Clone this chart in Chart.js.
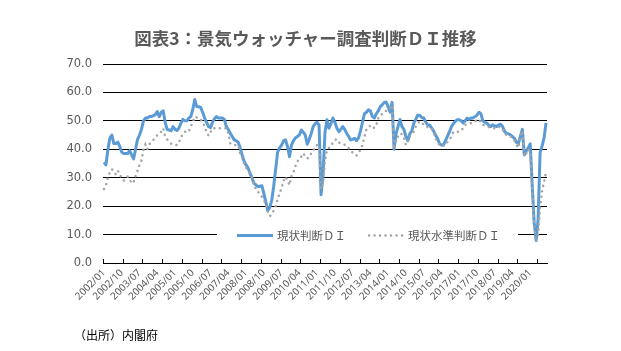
<!DOCTYPE html>
<html>
<head>
<meta charset="utf-8">
<script src="https://cdn.jsdelivr.net/npm/chart.js@4.4.0/dist/chart.umd.min.js"></script>
<style>
html, body { margin: 0; padding: 0; background: #fff; }
#wrap { position: relative; width: 621px; height: 351px; overflow: hidden; }
#diChart { position: absolute; left: 0; top: 0; }
#title { position: absolute; left: 0; top: 28px; width: 611px; text-align: center;
  font: bold 17.5px "Noto Sans CJK JP", sans-serif; color: #595959; line-height: 20px; }
#src { position: absolute; left: 74px; top: 327px; font: 12px "Noto Sans CJK JP", sans-serif;
  color: #000; line-height: 16px; }
</style>
</head>
<body>
<div id="wrap">
  <canvas id="diChart" width="621" height="351"></canvas>
  <div id="title">図表3：景気ウォッチャー調査判断ＤＩ推移</div>
  <div id="src">（出所）内閣府</div>
</div>
<script>
// months 2002/01 .. 2020/09
const months = [];
for (let y = 2002; y <= 2020; y++) {
  for (let m = 1; m <= 12; m++) {
    if (y === 2020 && m > 9) break;
    months.push(y + '/' + String(m).padStart(2, '0'));
  }
}

// 現状判断DI
const currentDI = [
  35.4, 34.5, 40.0, 44.0, 45.0, 42.0, 42.0, 42.5, 41.0, 39.0, 38.5, 38.5,
  38.5, 39.5, 38.0, 36.6, 40.0, 43.5, 45.0, 47.0, 50.0, 51.0, 51.0, 51.5,
  51.5, 51.8, 52.2, 53.3, 51.5, 53.0, 53.5, 49.5, 47.0, 46.8, 46.5, 48.0,
  47.0, 46.6, 47.5, 49.2, 50.5, 50.0, 50.0, 51.0, 51.5, 54.0, 57.5, 55.0,
  55.0, 54.7, 53.0, 51.0, 49.5, 48.0, 47.6, 49.5, 50.8, 51.5, 51.0, 51.0,
  51.0, 50.5, 48.0, 47.0, 45.6, 44.5, 43.3, 43.0, 42.5, 40.5, 38.0, 35.8,
  34.5, 33.5, 31.5, 30.0, 28.0, 27.5, 26.8, 27.0, 27.2, 24.5, 21.5, 18.5,
  19.5, 22.0, 27.0, 33.0, 39.0, 40.5, 41.5, 43.0, 43.3, 41.0, 37.4, 41.5,
  43.0, 44.0, 44.5, 45.0, 46.8, 46.0, 45.0, 41.8, 43.5, 45.5, 48.0, 49.0,
  49.5, 48.5, 24.0, 31.0, 46.0, 50.4, 47.4, 49.0, 51.0, 49.5, 47.5, 46.2,
  47.0, 48.0, 47.0, 45.6, 44.5, 43.3, 43.5, 43.9, 43.0, 44.0, 46.5, 49.5,
  52.5, 53.0, 53.9, 53.5, 51.5, 51.0, 52.5, 53.5, 55.0, 55.6, 56.5, 56.6,
  55.0, 53.0, 56.5, 40.0, 45.5, 48.0, 50.5, 48.0, 47.0, 44.5, 43.0, 45.5,
  46.5, 49.2, 50.5, 52.0, 52.0, 51.2, 51.0, 49.6, 48.6, 48.5, 47.5, 46.5,
  45.0, 43.9, 42.0, 41.5, 41.5, 43.0, 44.5, 46.0, 47.8, 49.0, 49.8, 50.4,
  50.4, 50.0, 49.2, 50.0, 51.0, 50.5, 51.0, 51.0, 51.5, 52.0, 53.0, 52.5,
  50.0, 49.5, 49.2, 48.5, 48.0, 48.6, 48.2, 48.0, 48.6, 48.8, 48.0, 46.2,
  45.6, 45.5, 45.0, 44.5, 43.8, 42.5, 42.0, 44.5, 47.0, 38.0, 39.4, 40.5,
  41.9, 27.4, 14.2, 7.9, 15.5, 38.8, 41.1, 43.9, 49.3
];

// 現状水準判断DI
const levelDI = [
  26.0, 27.5, 30.0, 32.0, 33.0, 32.0, 31.2, 32.5, 31.0, 30.0, 29.0, 29.5,
  30.4, 29.5, 28.0, 28.5, 30.5, 32.5, 34.5, 36.0, 39.8, 41.6, 40.0, 41.8,
  42.5, 43.3, 44.0, 45.0, 45.5, 46.2, 47.4, 44.5, 43.5, 42.7, 42.0, 41.8,
  41.6, 41.5, 42.5, 44.0, 45.5, 46.2, 46.0, 46.2, 48.0, 49.6, 51.5, 51.2,
  50.9, 50.5, 49.6, 48.0, 46.2, 44.8, 46.0, 47.4, 47.4, 47.4, 47.4, 47.4,
  47.4, 47.4, 47.4, 45.6, 42.1, 42.0, 41.5, 41.5, 41.5, 38.5, 37.0, 35.0,
  33.5, 32.7, 31.0, 30.0, 27.4, 26.0, 25.0, 24.5, 23.3, 22.0, 21.0, 18.0,
  16.5, 17.0, 18.5, 20.0, 22.5, 24.5, 26.5, 29.0, 30.3, 29.0, 27.4, 30.5,
  32.0, 34.0, 35.6, 36.8, 37.4, 38.6, 37.5, 36.8, 37.2, 38.6, 39.2, 41.0,
  41.5, 41.0, 26.0, 28.0, 36.0, 39.8, 40.5, 41.0, 42.5, 43.3, 43.5, 42.4,
  42.1, 41.8, 41.6, 41.0, 40.4, 39.8, 38.8, 38.4, 37.8, 38.5, 40.0, 41.5,
  44.5, 47.0, 47.5, 48.5, 48.0, 47.5, 48.5, 51.0, 51.5, 52.5, 53.3, 53.5,
  53.9, 54.5, 55.5, 40.0, 43.0, 44.5, 45.6, 45.3, 44.0, 41.5, 43.0, 44.5,
  45.5, 46.2, 48.0, 49.2, 49.8, 49.5, 48.6, 48.3, 47.8, 47.4, 47.4, 46.0,
  43.9, 42.5, 41.5, 41.0, 41.3, 41.6, 42.5, 43.3, 44.5, 46.0, 46.2, 46.2,
  46.2, 46.5, 47.5, 48.6, 48.8, 49.0, 49.2, 49.5, 49.8, 50.2, 50.5, 49.5,
  48.6, 48.3, 48.0, 47.8, 47.6, 47.4, 47.4, 47.6, 47.8, 48.0, 47.0, 45.6,
  45.0, 44.8, 44.5, 44.0, 43.0, 41.5, 40.5, 44.5, 46.5, 37.5, 38.5, 40.0,
  39.0, 26.0, 13.0, 7.5, 10.0, 19.0, 25.5, 28.5, 32.0
];

const seriesNames = ['現状判断ＤＩ', '現状水準判断ＤＩ'];
const yTicks = [0, 10, 20, 30, 40, 50, 60, 70];
const labelEvery = 9;   // x labels every 9 months
const markEvery = 10;   // tick marks every 10 months

// small inward tick marks on the category axis
const tickMarks = {
  id: 'tickMarks',
  afterDraw(chart) {
    const x = chart.scales.x;
    const ctx = chart.ctx;
    const half = (x.getPixelForValue(1) - x.getPixelForValue(0)) / 2;
    ctx.save();
    ctx.strokeStyle = '#000';
    ctx.lineWidth = 1;
    for (let i = 0; i < months.length; i += markEvery) {
      const px = Math.round(x.getPixelForValue(i) - half) + 0.5;
      ctx.beginPath();
      ctx.moveTo(px, x.top);
      ctx.lineTo(px, x.top - 4);
      ctx.stroke();
    }
    ctx.restore();
  }
};

// legend drawn inside the plot, on a white box over the 10.0 line
const insideLegend = {
  id: 'insideLegend',
  afterDatasetsDraw(chart) {
    const ctx = chart.ctx;
    const a = chart.chartArea;
    const y = Math.round(chart.scales.y.getPixelForValue(10)) + 0.5;
    const ds = chart.data.datasets;
    ctx.save();
    ctx.fillStyle = '#fff';
    ctx.fillRect(a.left + 114, y - 9, 301, 18);

    const items = [
      { d: ds[0], x0: a.left + 134, x1: a.left + 170, tx: a.left + 174 },
      { d: ds[1], x0: a.left + 266, x1: a.left + 300, tx: a.left + 305 }
    ];
    items.forEach(it => {
      ctx.strokeStyle = it.d.borderColor;
      ctx.lineWidth = it.d.borderWidth;
      ctx.lineCap = it.d.borderCapStyle || 'butt';
      ctx.setLineDash(it.d.borderDash || []);
      ctx.beginPath();
      ctx.moveTo(it.x0, y);
      ctx.lineTo(it.x1, y);
      ctx.stroke();
      ctx.setLineDash([]);
      ctx.fillStyle = '#595959';
      ctx.font = '11.5px "Noto Sans CJK JP"';
      ctx.textBaseline = 'middle';
      ctx.textAlign = 'left';
      ctx.fillText(it.d.label, it.tx, y + 0.5);
    });
    ctx.restore();
  }
};

const ctx = document.getElementById('diChart').getContext('2d');

new Chart(ctx, {
  type: 'line',
  data: {
    labels: months,
    datasets: [
      {
        label: seriesNames[0],
        data: currentDI,
        borderColor: '#5B9BD5',
        borderWidth: 3,
        borderJoinStyle: 'round',
        pointRadius: 0,
        tension: 0,
        order: 2
      },
      {
        label: seriesNames[1],
        data: levelDI,
        borderColor: '#A5A5A5',
        borderWidth: 2.5,
        borderDash: [0.1, 5.4],
        borderCapStyle: 'round',
        pointRadius: 0,
        tension: 0,
        order: 1
      }
    ]
  },
  options: {
    responsive: false,
    animation: false,
    devicePixelRatio: 1,
    layout: { padding: { top: 64, right: 74, left: 0, bottom: 0 } },
    scales: {
      x: {
        type: 'category',
        offset: true,
        grid: { display: false, drawTicks: false },
        border: { display: true, color: '#000', width: 1 },
        ticks: {
          autoSkip: false,
          minRotation: 45,
          maxRotation: 45,
          padding: 4,
          color: '#595959',
          font: { family: 'Noto Sans', size: 10 },
          callback: function (v, i) {
            return i % labelEvery === 0 ? this.getLabelForValue(v) : '';
          }
        },
        afterFit(s) { s.height = 88; }
      },
      y: {
        min: yTicks[0],
        max: yTicks[yTicks.length - 1],
        afterBuildTicks(s) { s.ticks = yTicks.map(v => ({ value: v })); },
        grid: { color: '#000', lineWidth: 1, drawTicks: false },
        border: { display: false },
        ticks: {
          padding: 11,
          color: '#595959',
          font: { family: 'DejaVu Sans', size: 11.5 },
          callback: v => v.toFixed(1)
        },
        afterFit(s) { s.width = 103; }
      }
    },
    plugins: {
      legend: { display: false },
      tooltip: { enabled: false }
    }
  },
  plugins: [tickMarks, insideLegend]
});
</script>
</body>
</html>
